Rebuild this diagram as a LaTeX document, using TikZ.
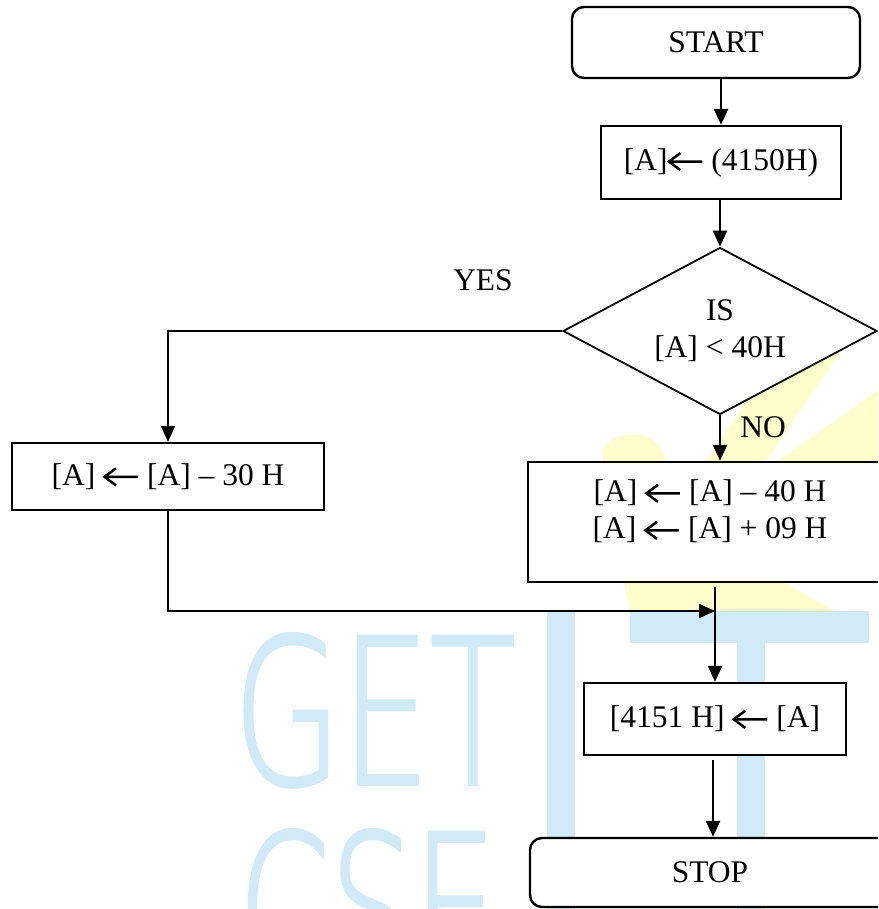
\documentclass[tikz,border=0pt]{standalone}
\usepackage{fontspec}
\usepackage{graphicx}
\setmainfont{Liberation Serif}
\newfontfamily\wmfont{DejaVu Sans ExtraLight}[FakeBold=2]
\usetikzlibrary{arrows.meta,shapes.geometric}
\definecolor{wmblue}{RGB}{208,235,247}
\definecolor{wmyellow}{RGB}{255,253,204}
% open-headed assignment arrow used inside the box texts
\newcommand{\garrow}{\tikz[baseline=0pt]\draw[line width=2.5pt,line join=miter]
  (13pt,17pt)--(1.5pt,8.5pt)--(13pt,0pt) (1.5pt,8.5pt)--(35pt,8.5pt);}
\begin{document}
\begin{tikzpicture}[x=1pt,y=-1pt,
  font=\fontsize{31.5}{37}\selectfont,
  box/.style={draw,line width=2.4pt,fill=white,inner sep=0pt},
  term/.style={box,rounded corners=12pt},
  arr/.style={line width=2.4pt,-{Triangle[length=16pt,width=14pt]}},
  wm/.style={text=wmblue,inner sep=0pt,font=\wmfont}]
\useasboundingbox (0,0) rectangle (878,909);
\clip (0,0) rectangle (878,909);
\fill[white] (0,0) rectangle (878,909);

% background logo
\fill[wmyellow] (603,470) -- (603,452) .. controls (606,438) and (625,433) .. (640,435)
  .. controls (655,437) and (663,445) .. (668,470) -- cycle;
\fill[wmyellow] (700,470) -- (760,470) -- (845,345) -- (785,345) -- cycle;
\fill[wmyellow] (765,470) -- (890,382) -- (890,470) -- cycle;
\fill[wmyellow] (623,578) -- (777,578) -- (840,614) -- (630,614) -- cycle;
\fill[wmblue] (547,611) rectangle (575,909);
\fill[wmblue] (630,611) rectangle (869,643);
\fill[wmblue] (737,643) rectangle (765,909);
\node[wm,anchor=south west] (wmget) at (233,787) {\resizebox{282pt}{150pt}{GET}};
\node[wm,anchor=south west] (wmcse) at (238,983) {\resizebox{258pt}{150pt}{CSE}};

% flowchart
\node[term,minimum width=288pt,minimum height=71pt] (start) at (716,42.5) {START};
\node[box,minimum width=240pt,minimum height=73pt] (b1) at (721,162.5) {[A]\garrow{} (4150H)};
\node[box,diamond,aspect=1.88,line width=1.8pt,minimum width=314pt,minimum height=167pt,align=center]
  (dia) at (720,331) {IS\\{[A]} < 40H};
\node[box,minimum width=312pt,minimum height=67pt] (b2) at (168,476.5) {[A] \garrow{} [A] – 30 H};
\node[box,minimum width=364pt,minimum height=120pt] (b3) at (710,522) {};
\node[align=center,inner sep=0pt] (b3t) at (710,511.5)
  {[A] \garrow{} [A] – 40 H\\{[A]} \garrow{} [A] + 09 H};
\node[box,minimum width=262pt,minimum height=72pt] (b4) at (715,719) {[4151 H] \garrow{} [A]};
\node[term,minimum width=360pt,minimum height=69pt] (stop) at (710,872.5) {STOP};

\node (yes) at (483,280) {YES};
\node (no) at (763,427) {NO};

% connectors
\coordinate (join) at (715,611);
\coordinate (b3out) at (715,587);
\coordinate (b4out) at (713,760);
\draw[arr] (start.south -| b1.north) -- (b1.north);
\draw[arr] (dia.north |- b1.south) -- (dia.north);
\draw[arr] (dia.west) -| (b2.north);
\draw[arr] (dia.south) -- (dia.south |- b3.north);
\draw[arr] (b2.south) |- (join);
\draw[arr] (b3out) -- (b4.north);
\draw[arr] (b4out) -- (b4out |- stop.north);
\end{tikzpicture}
\end{document}
